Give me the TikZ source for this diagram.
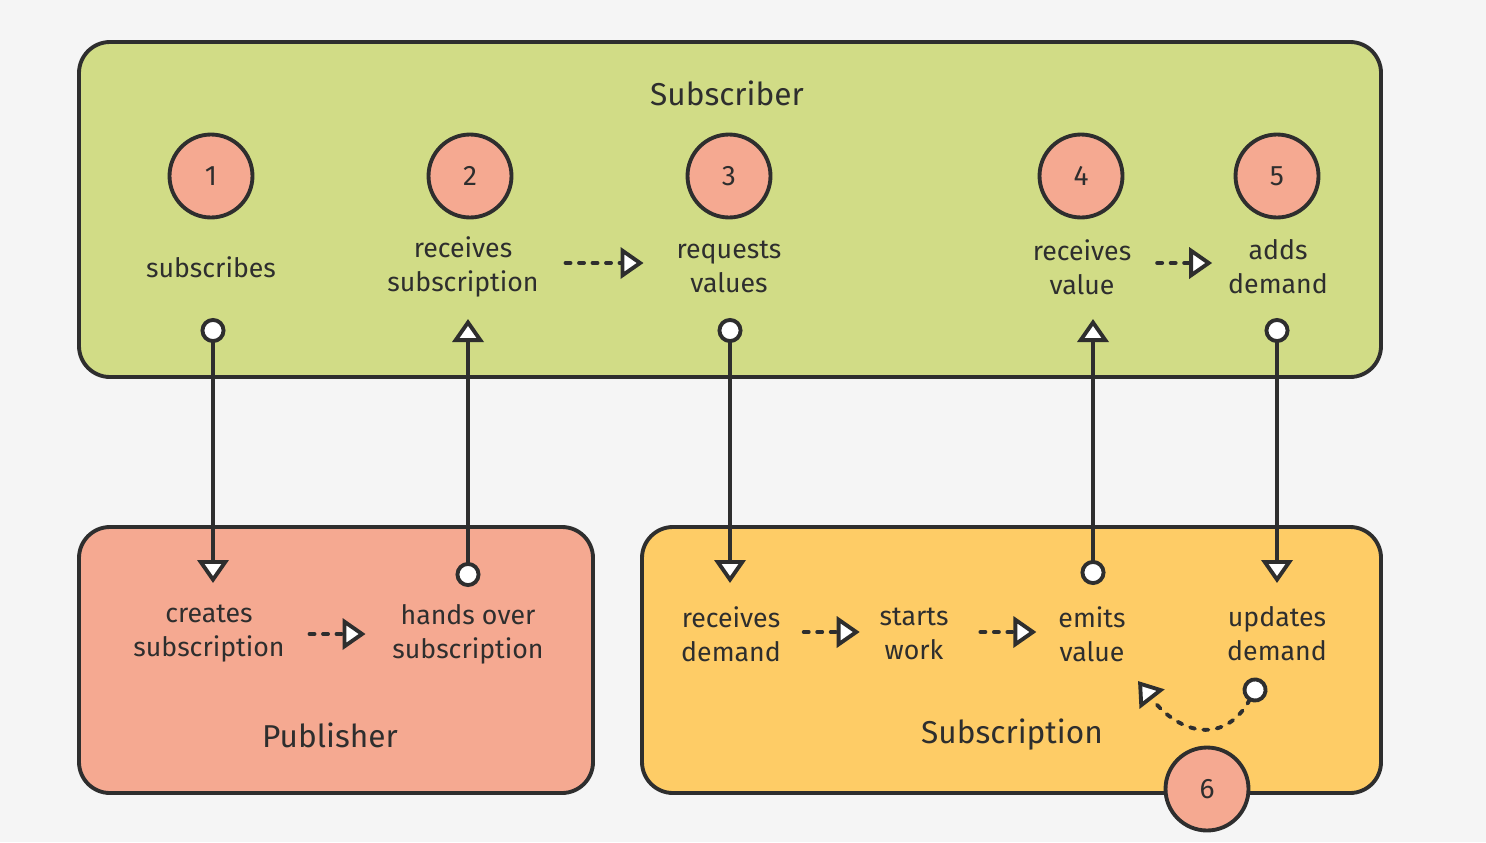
\documentclass[tikz,border=0pt]{standalone}
\usepackage{fontspec}
\setmainfont{Fira Sans}
\usetikzlibrary{arrows.meta}

\definecolor{inkc}{HTML}{2E2E2E}
\definecolor{paper}{HTML}{F5F5F5}
\definecolor{lime}{HTML}{D1DC86}
\definecolor{salmon}{HTML}{F5A991}
\definecolor{sun}{HTML}{FECC66}

\begin{document}
\begin{tikzpicture}[
		x=0.02cm, y=-0.02cm,
		line width=2.2pt,
		line join=round,
		,
		box/.style={draw=inkc,rounded corners=0.62cm},
		num/.style={circle,draw=inkc,fill=salmon,minimum size=1.66cm,inner sep=0pt,text=inkc,font=\fontsize{16}{19}\selectfont},
		lbl/.style={align=center,text=inkc,inner sep=0pt,font=\fontsize{15.2}{19.3}\selectfont},
		ttl/.style={text=inkc,font=\fontsize{18}{21}\selectfont},
		flow/.style={draw=inkc,{Circle[fill=white,length=0.5cm]}-{Triangle[fill=white,length=0.46cm,width=0.62cm]}},
		nextarrow/.style={draw=inkc,dash pattern=on 0.1cm off 0.17cm,line cap=round,-{Triangle[fill=white,length=0.46cm,width=0.62cm]}}
		]
		\useasboundingbox[fill=paper] (0,0) rectangle (1486,842);
		
		% boxes
		\draw[box,fill=lime] (79,42) rectangle (1381,377);
		\draw[box,fill=salmon] (79,527) rectangle (593,793);
		\draw[box,fill=sun] (642,527) rectangle (1381,793);
		
		\node[ttl](subscriber) at (727,93){Subscriber};
		\node[ttl](publisher) at (330,735){Publisher};
		\node[ttl](subscription) at (1012,735){Subscription};
		
		% steps
		\node[num](n1) at (211,176){1};
		\node[num](n2) at (470,176){2};
		\node[num](n3) at (729,176){3};
		\node[num](n4) at (1081,176){4};
		\node[num](n5) at (1277,176){5};
		
		\node[lbl](subs) at (211,267){subscribes};
		\node[lbl](recsub) at (463,267){receives\\subscription};
		\node[lbl](reqval) at (729,267){requests\\values};
		\node[lbl](recval) at (1082,267){receives\\value};
		\node[lbl](adddem) at (1278,267){adds\\demand};
		
		\node[lbl](createsub) at (209,634){creates\\subscription};
		\node[lbl](handsub) at (468,634){hands over\\subscription};
		\node[lbl](recdem) at (731,634){receives\\demand};
		\node[lbl](startwork) at (914,634){starts\\work};
		\node[lbl](emitval) at (1092,634){emits\\value};
		\node[lbl](upddem) at (1277,634){updates\\demand};
		
		% connector ends
		\coordinate (subsout) at (213,318);
		\coordinate (createin) at (213,583);
		\coordinate (handout) at (468,587);
		\coordinate (recsubin) at (468,319);
		\coordinate (reqout) at (730,318);
		\coordinate (recdemin) at (730,583);
		\coordinate (emitout) at (1093,585);
		\coordinate (recvalin) at (1093,319);
		\coordinate (addout) at (1277,318);
		\coordinate (upddemin) at (1277,583);
		\coordinate (updout) at (1261,679);
		\coordinate (emitin) at (1138,681);
		
		\path[flow] (subsout) -- (createin);
		\path[flow] (handout) -- (recsubin);
		\path[flow] (reqout) -- (recdemin);
		\path[flow] (emitout) -- (recvalin);
		\path[flow] (addout) -- (upddemin);
		
		\path[nextarrow] (recsub.east) ++(25,-4) -- ++(78,0);
		\path[nextarrow] (recval.east) ++(24,-4) -- ++(55,0);
		\path[nextarrow] (createsub.east) ++(23,0) -- ++(56,0);
		\path[nextarrow] (recdem.east) ++(21,-2) -- ++(56,0);
		\path[nextarrow] (startwork.east) ++(30,-2) -- ++(56,0);
		
		\path[nextarrow,{Circle[fill=white,length=0.5cm]}-{Triangle[fill=white,length=0.46cm,width=0.62cm]}]
		(updout) .. controls (1225,745) and (1180,735) .. (emitin);
		
		\node[num](n6) at (1207,789){6};
		
		\end{tikzpicture}
\end{document}
